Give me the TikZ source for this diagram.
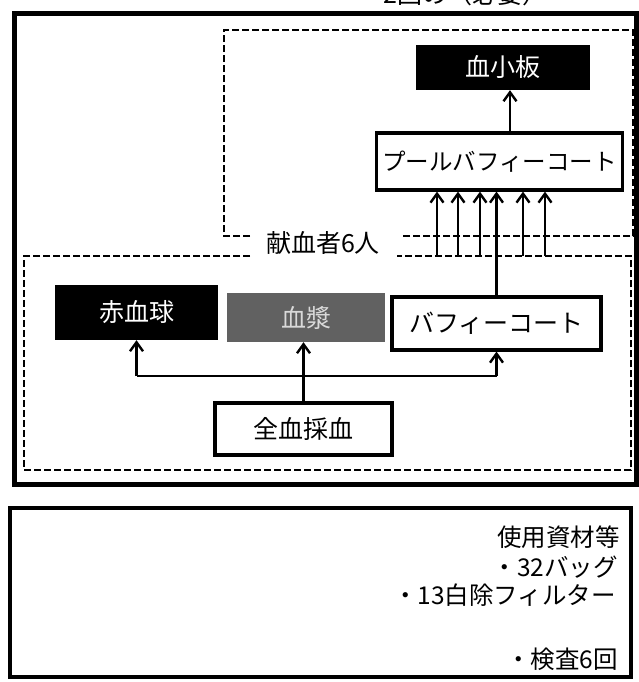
\documentclass[tikz,border=0pt]{standalone}
\usepackage{fontspec}
\setmainfont{Noto Sans CJK JP}
\usetikzlibrary{arrows.meta}
\tikzset{
  lbl/.style={font=\fontsize{25pt}{30pt}\selectfont, inner sep=0pt},
  whitebox/.style={lbl, draw=black, line width=3.2pt, fill=white, text=black},
  darkbox/.style={lbl, draw=none, fill=black, text=white},
  graybox/.style={lbl, draw=none, fill=black!62, text=white!85!black},
  arr/.style={line width=2.4pt, -{Straight Barb[length=9pt,width=13pt,line width=2.4pt]}},
  conn/.style={line width=2.4pt},
  dashbox/.style={line width=2.4pt, dash pattern=on 7pt off 3pt},
  frame/.style={line width=5pt},
  note/.style={font=\fontsize{24.5pt}{29pt}\selectfont, inner sep=0pt, anchor=east}
}
\begin{document}
\begin{tikzpicture}[x=1pt,y=-1pt]
\useasboundingbox (0,0) rectangle (638,682);
\fill[white] (0,0) rectangle (638,682);

% clipped title at the very top
\node[lbl, anchor=south east] (title) at (548,6) {2回の（必要）};

% outer frame
\draw[frame] (14,14) rectangle (636,484);

% upper dashed region
\draw[dashbox] (250,236) -- (224,236) -- (224,30) -- (633,30) -- (633,236) -- (400,236);
% lower dashed region
\draw[dashbox] (250,256) -- (24,256) -- (24,470) -- (631,470) -- (631,256) -- (397,256);
\node[lbl] (donors) at (323,243) {献血者6人};

% nodes
\node[darkbox, minimum width=174pt, minimum height=45pt] (plt) at (503,67.5) {血小板};
\node[whitebox, minimum width=246pt, minimum height=57pt, font=\fontsize{23.5pt}{28pt}\selectfont] (pool) at (499.5,161.5) {プールバフィーコート};
\node[darkbox, minimum width=163pt, minimum height=55pt] (rbc) at (136.5,312.5) {赤血球};
\node[graybox, minimum width=158pt, minimum height=49pt] (plasma) at (306,317.5) {血漿};
\node[whitebox, minimum width=209pt, minimum height=53pt] (buffy) at (496.5,323.5) {バフィーコート};
\node[whitebox, minimum width=177pt, minimum height=52pt] (whole) at (303.5,429) {全血採血};

% connectors
\coordinate (split) at (303.5,376);
\draw[arr] (whole.north) -- (whole.north |- plasma.south);
\draw[conn] (split -| rbc.south) -- (split -| buffy.south);
\draw[arr] (split -| rbc.south) -- (rbc.south);
\draw[arr] (split -| buffy.south) -- (buffy.south);
\draw[arr] (buffy.north) -- (buffy.north |- pool.south);
\foreach \x in {437,458,480,523,545}
  \draw[arr] (\x,256) -- (\x,0 |- pool.south);
\draw[arr] (510,0 |- pool.north) -- (510,0 |- plt.south);

% materials box
\draw[frame, line width=3.8pt] (10,508) rectangle (631,677);
\node[note] (m1) at (620,537) {使用資材等};
\node[note] (m2) at (618,567) {・32バッグ};
\node[note] (m3) at (616,595) {・13白除フィルター};
\node[note] (m4) at (618,659) {・検査6回};
\end{tikzpicture}
\end{document}
